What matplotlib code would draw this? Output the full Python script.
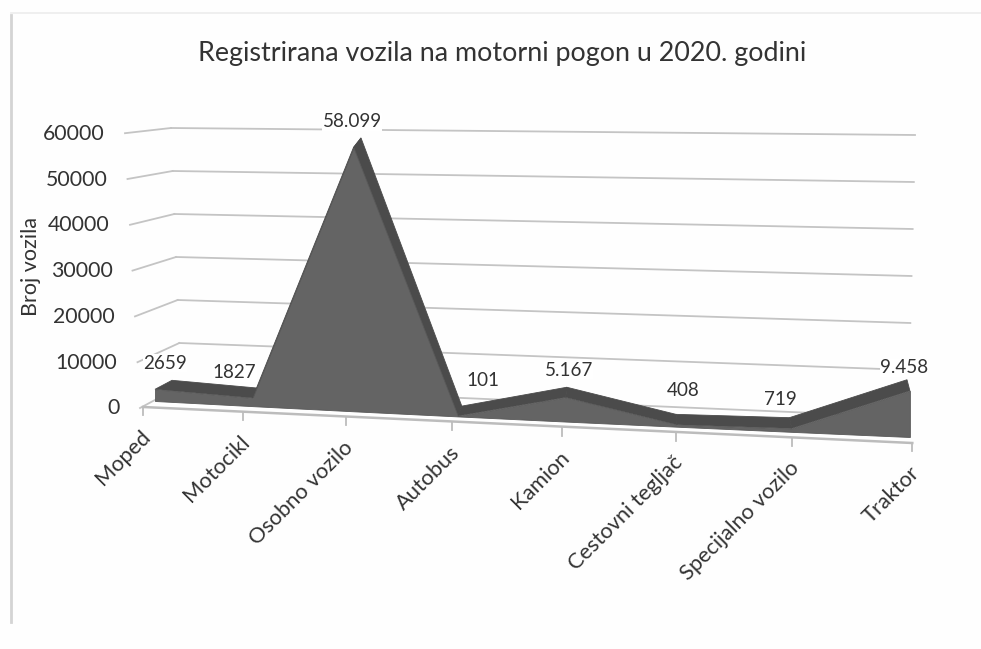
import numpy as np
import matplotlib
matplotlib.use("Agg")
import matplotlib.pyplot as plt
from matplotlib.transforms import Transform
from matplotlib.patches import Polygon

title = "Registrirana vozila na motorni pogon u 2020. godini"
y_title = "Broj vozila"
categories = ["Moped", "Motocikl", "Osobno vozilo", "Autobus", "Kamion",
              "Cestovni tegljač", "Specijalno vozilo", "Traktor"]
values = [2659, 1827, 58099, 101, 5167, 408, 719, 9458]
value_labels = ["2659", "1827", "58.099", "101", "5.167", "408", "719", "9.458"]
y_ticks = [0, 10000, 20000, 30000, 40000, 50000, 60000]

plt.rcParams["font.family"] = ["Lato", "DejaVu Sans"]
INK = "#333333"
GRID = "#c4c4c4"


class Proj(Transform):
    """Maps (position, value) to page pixels for one plane of the 3D box."""
    input_dims = output_dims = 2

    def __init__(self, fn):
        super().__init__()
        self.fn = fn

    def transform_non_affine(self, values):
        a = np.asarray(values, dtype=float)
        return np.column_stack(self.fn(a[:, 0], a[:, 1]))


def front_fn(i, v):
    x = 155 + 95.8 * i + 1.72 * i ** 2
    y = 401 + 36 * i / 7 - (0.0044 + 0.00007 * i) * v
    return x, y


def ridge_fn(i, v):
    x = 172 + 90.3 * i + 2.1 * i ** 2
    y = 392 + 34 * i / 7 - (0.0044 + 0.00007 * i) * v
    return x, y


def wall_fn(u, v):
    t = u / 7
    xl = 181 - 10 * v / 60000
    xr = 908 + 7 * v / 60000
    return xl + (xr - xl) * t, (386 - 0.0043 * v) * (1 - t) + (417 - 0.0047 * v) * t


def side_fn(u, v):
    xf, yf = 140 - 15 * v / 60000, 408 - 0.00458 * v
    xb, yb = wall_fn(np.zeros_like(v), v)
    return xf + (xb - xf) * u, yf + (yb - yf) * u


def floor_fn(i, v):
    x = 143 + 98 * i + 1.7 * i ** 2
    y = 407 + 36 * i / 7 + v
    return x, y


fig = plt.figure(figsize=(9.81, 6.49), dpi=100, facecolor="#fefefe")
ax = fig.add_axes([0, 0, 1, 1])
ax.set_xlim(0, 981)
ax.set_ylim(649, 0)
ax.set_autoscale_on(False)
ax.axis("off")

front = Proj(front_fn)
ridge = Proj(ridge_fn)
wall = Proj(wall_fn)
side = Proj(side_fn)
floor = Proj(floor_fn)

# scanned page edge
ax.plot([11, 11], [15, 622], color="#d4d4d4", lw=2.0)
ax.plot([11, 981], [13, 13], color="#ececec", lw=1.2)

# walls
for t in y_ticks:
    ax.plot([0, 7], [t, t], color=GRID, lw=1.3, transform=wall + ax.transData, zorder=1)
    ax.plot([0, 1], [t, t], color=GRID, lw=1.3, transform=side + ax.transData, zorder=1)

# floor front edge and ticks
pos = np.arange(len(categories))
ax.plot([0, 7], [0, 0], color="#bcbcbc", lw=1.8, transform=floor + ax.transData, zorder=1)
for p in pos:
    ax.plot([p, p], [0, 8], color="#bcbcbc", lw=1.3, transform=floor + ax.transData, zorder=1)

# depth faces
vals = np.array(values, dtype=float)
for k in range(len(vals) - 1):
    pts_f = front.transform(np.array([[k, vals[k]], [k + 1, vals[k + 1]]]))
    pts_r = ridge.transform(np.array([[k + 1, vals[k + 1]], [k, vals[k]]]))
    ax.add_patch(Polygon(np.vstack([pts_f, pts_r]), closed=True, fc="#4b4b4b",
                         ec="#4b4b4b", lw=0.6, zorder=3))

# front face
ax.fill_between(pos, 0, vals, transform=front + ax.transData,
                facecolor="#646464", edgecolor="#585858", lw=0.6, zorder=4)

# data labels
label_offsets = [(-7, 17), (-30, 16), (-9, 16), (21, 26), (2, 17), (7, 24), (-9, 18), (-3, 12)]
ridge_pts = ridge.transform(np.column_stack([pos, vals]))
for (x, y), s, (dx, dy) in zip(ridge_pts, value_labels, label_offsets):
    ax.text(x + dx, y - dy, s, ha="center", va="center", fontsize=13.6, color=INK,
            bbox=dict(fc="white", ec="none", pad=0.3), zorder=2)

# value axis labels
for t in y_ticks:
    x, y = side_fn(np.array(0.0), np.array(float(t)))
    ax.text(x - 20, y + 0.5, f"{t}", ha="right", va="center",
            fontsize=15.3, color=INK, zorder=6)

# category labels
tick_pts = floor.transform(np.column_stack([pos, np.zeros(len(pos))]))
for (x, y), c in zip(tick_pts, categories):
    ax.text(x + 4, y + 27, c, ha="right", va="center", rotation=45,
            rotation_mode="anchor", fontsize=15.7, color=INK, zorder=6)

ax.text(502, 54, title, ha="center", va="center", fontsize=19.4, color=INK)
ax.text(31, 267, y_title, ha="center", va="center", rotation=90, fontsize=15.5, color=INK)

fig.savefig("out.png", dpi=100, facecolor=fig.get_facecolor())
